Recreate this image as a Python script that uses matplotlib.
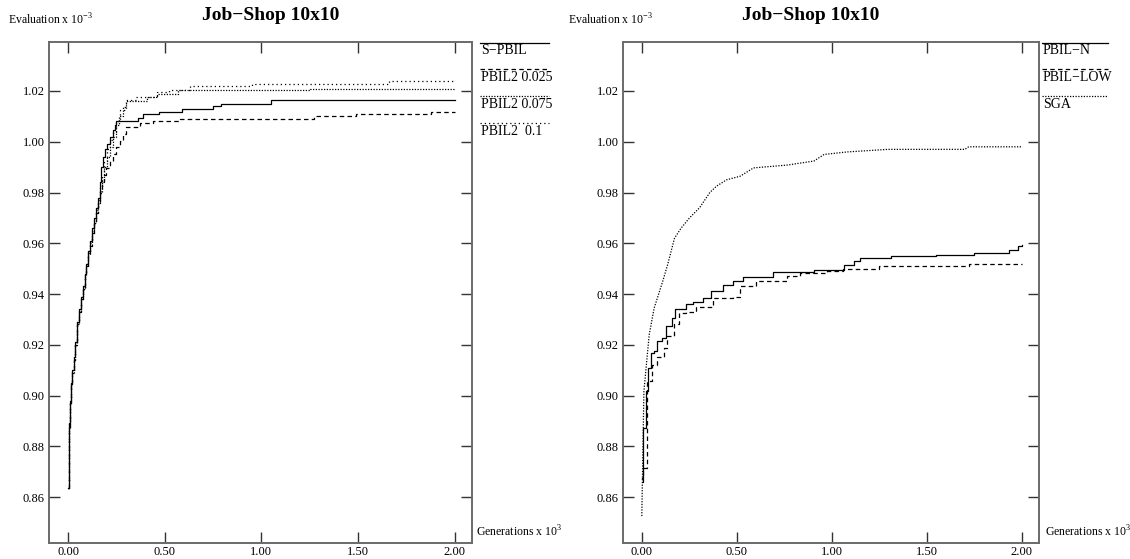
import matplotlib

matplotlib.use("Agg")
import matplotlib.pyplot as plt
from matplotlib.lines import Line2D

W, H = 1130, 559
SERIF = ["Liberation Serif", "DejaVu Serif"]
FRAME = "#6a6a6a"

plt.rcParams["font.family"] = SERIF
plt.rcParams["mathtext.fontset"] = "custom"
plt.rcParams["mathtext.rm"] = "Liberation Serif"

# generations (x 10^3) / best evaluation (x 10^-3), left panel
spbil_x = [0.0, 0.003, 0.006, 0.010, 0.015, 0.022, 0.030, 0.038, 0.047, 0.056, 0.065, 0.075,
           0.085, 0.095, 0.105, 0.115, 0.125, 0.135, 0.145, 0.155, 0.165, 0.172, 0.181, 0.190,
           0.200, 0.215, 0.233, 0.243, 0.250, 0.36, 0.39, 0.47, 0.59, 0.75, 0.79, 1.05, 2.0]
spbil_y = [0.8635, 0.875, 0.889, 0.898, 0.905, 0.910, 0.915, 0.921, 0.929, 0.934, 0.939, 0.943,
           0.948, 0.952, 0.957, 0.961, 0.966, 0.970, 0.974, 0.978, 0.984, 0.990, 0.994, 0.997,
           0.999, 1.002, 1.0045, 1.0065, 1.0083, 1.0094, 1.011, 1.0119, 1.013, 1.0139, 1.015,
           1.0163, 1.0163]

p025_x = [0.0, 0.003, 0.006, 0.010, 0.015, 0.022, 0.030, 0.038, 0.047, 0.056, 0.065, 0.075,
          0.085, 0.095, 0.105, 0.115, 0.125, 0.135, 0.145, 0.155, 0.164, 0.175, 0.186, 0.198,
          0.215, 0.233, 0.250, 0.267, 0.285, 0.302, 0.37, 0.44, 0.578, 1.27, 1.49, 1.88, 2.0]
p025_y = [0.8635, 0.874, 0.887, 0.897, 0.904, 0.909, 0.914, 0.920, 0.928, 0.933, 0.938, 0.942,
          0.947, 0.951, 0.955, 0.959, 0.964, 0.968, 0.972, 0.976, 0.9805, 0.984, 0.987, 0.9897,
          0.9925, 0.9953, 0.998, 1.0003, 1.003, 1.006, 1.0073, 1.008, 1.009, 1.010, 1.011,
          1.0117, 1.0117]

p075_x = [0.0, 0.003, 0.006, 0.010, 0.015, 0.022, 0.030, 0.038, 0.047, 0.056, 0.065, 0.075,
          0.085, 0.095, 0.105, 0.115, 0.125, 0.135, 0.145, 0.155, 0.165, 0.175, 0.186, 0.200,
          0.216, 0.233, 0.250, 0.265, 0.285, 0.30, 0.41, 0.46, 0.57, 1.25, 2.0]
p075_y = [0.8635, 0.875, 0.888, 0.897, 0.904, 0.909, 0.914, 0.920, 0.928, 0.933, 0.938, 0.942,
          0.947, 0.951, 0.956, 0.960, 0.964, 0.968, 0.972, 0.976, 0.980, 0.985, 0.990, 0.994,
          0.998, 1.002, 1.0066, 1.010, 1.0135, 1.016, 1.0176, 1.019, 1.0203, 1.0209, 1.0209]

p01_x = [0.0, 0.003, 0.006, 0.010, 0.015, 0.022, 0.030, 0.038, 0.047, 0.056, 0.065, 0.075,
         0.085, 0.095, 0.105, 0.115, 0.125, 0.135, 0.145, 0.155, 0.165, 0.175, 0.186, 0.200,
         0.216, 0.233, 0.250, 0.27, 0.30, 0.35, 0.46, 0.52, 0.63, 0.95, 1.66, 2.0]
p01_y = [0.8635, 0.875, 0.889, 0.898, 0.905, 0.910, 0.915, 0.921, 0.929, 0.934, 0.939, 0.943,
         0.948, 0.952, 0.957, 0.961, 0.965, 0.969, 0.973, 0.977, 0.982, 0.987, 0.9925, 0.997,
         1.0005, 1.004, 1.008, 1.0125, 1.0163, 1.0176, 1.0196, 1.0205, 1.0219, 1.0229, 1.0238,
         1.0238]

# right panel
pbiln_x = [0.0, 0.004, 0.02, 0.034, 0.046, 0.064, 0.082, 0.108, 0.126, 0.161, 0.175, 0.232,
           0.267, 0.32, 0.365, 0.427, 0.48, 0.533, 0.692, 0.905, 1.064, 1.117, 1.15, 1.31,
           1.55, 1.75, 1.93, 1.98, 2.0]
pbiln_y = [0.8676, 0.8872, 0.9017, 0.911, 0.9168, 0.9175, 0.9214, 0.9227, 0.9273, 0.9306, 0.934,
           0.9359, 0.937, 0.9385, 0.941, 0.9437, 0.945, 0.9466, 0.9487, 0.9496, 0.9516, 0.953,
           0.9542, 0.9549, 0.9555, 0.956, 0.9575, 0.959, 0.9595]

plow_x = [0.0, 0.004, 0.028, 0.055, 0.082, 0.117, 0.135, 0.17, 0.196, 0.23, 0.284, 0.372,
          0.48, 0.515, 0.6, 0.763, 0.833, 0.975, 1.06, 1.25, 1.72, 2.0]
plow_y = [0.866, 0.8715, 0.9056, 0.9122, 0.915, 0.9188, 0.9234, 0.928, 0.9325, 0.933, 0.935,
          0.9385, 0.939, 0.943, 0.945, 0.947, 0.9483, 0.949, 0.950, 0.951, 0.952, 0.952]

sga_x = [0.0, 0.005, 0.011, 0.039, 0.065, 0.11, 0.136, 0.172, 0.207, 0.251, 0.304, 0.358,
         0.393, 0.446, 0.517, 0.588, 0.765, 0.906, 0.959, 1.083, 1.296, 1.70, 1.72, 2.0]
sga_y = [0.8525, 0.875, 0.9017, 0.924, 0.9345, 0.945, 0.9516, 0.962, 0.966, 0.970, 0.974, 0.980,
         0.9825, 0.985, 0.9864, 0.9897, 0.9908, 0.9924, 0.995, 0.996, 0.997, 0.997, 0.998, 0.998]

x_ticks = [0.0, 0.5, 1.0, 1.5, 2.0]
y_ticks = [0.86, 0.88, 0.90, 0.92, 0.94, 0.96, 0.98, 1.00, 1.02]

SOLID = "-"
DASHED = (0, (3.6, 2.6))
DENSE_DOT = (0, (1.0, 1.2))
SPARSE_DOT = (0, (1.0, 2.4))


def fx(px):
    return px / W


def fy(py):
    return 1 - py / H


def make_axes(fig, left, right, top, bottom):
    ax = fig.add_axes([fx(left), fy(bottom), fx(right) - fx(left), fy(top) - fy(bottom)])
    ax.set_xlim(-0.099, 2.09)
    ax.set_ylim(0.8419, 1.0393)
    ax.set_xticks(x_ticks)
    ax.set_yticks(y_ticks)
    ax.set_xticklabels([f"{v:.2f}" for v in x_ticks])
    ax.set_yticklabels([f"{v:.2f}" for v in y_ticks])
    ax.tick_params(direction="in", length=8, width=1.0, color="#333333",
                   top=True, right=True, labelsize=9, pad=3)
    ax.tick_params(axis="x", pad=2)
    for sp in ax.spines.values():
        sp.set_color(FRAME)
        sp.set_linewidth(1.4)
    return ax


def side_legend(fig, x0, x1, entries):
    for i, (label, ls) in enumerate(entries):
        ly = 42.5 + i * 26.7
        fig.add_artist(Line2D([fx(x0), fx(x1)], [fy(ly), fy(ly)], transform=fig.transFigure,
                              color="black", lw=0.9, linestyle=ls))
        fig.text(fx(x0 + 1), fy(ly + 8.5), label, fontsize=10, va="center", ha="left")


fig = plt.figure(figsize=(W / 100, H / 100), dpi=100)

ax1 = make_axes(fig, 49, 472, 42, 543)
ax1.plot(spbil_x, spbil_y, color="black", lw=0.9, ls=SOLID, drawstyle="steps-post")
ax1.plot(p025_x, p025_y, color="black", lw=0.9, ls=DASHED, drawstyle="steps-post")
ax1.plot(p075_x, p075_y, color="black", lw=0.9, ls=DENSE_DOT, drawstyle="steps-post")
ax1.plot(p01_x, p01_y, color="black", lw=0.9, ls=SPARSE_DOT, drawstyle="steps-post")

ax2 = make_axes(fig, 623, 1039, 42, 543)
ax2.plot(pbiln_x, pbiln_y, color="black", lw=0.9, ls=SOLID, drawstyle="steps-post")
ax2.plot(plow_x, plow_y, color="black", lw=0.9, ls=DASHED, drawstyle="steps-post")
ax2.plot(sga_x, sga_y, color="black", lw=0.9, ls=DENSE_DOT)

for cx, ex, gx in [(271, 8, 476), (811, 568, 1045)]:
    fig.text(fx(cx), fy(15), "Job\u2212Shop 10x10", fontsize=14, fontweight="bold",
             ha="center", va="center")
    fig.text(fx(ex), fy(20), "Evaluation x 10$^{-3}$", fontsize=8.5, ha="left", va="center")
    fig.text(fx(gx), fy(532), "Generations x 10$^{3}$", fontsize=8.5, ha="left", va="center")

side_legend(fig, 480, 549, [("S\u2212PBIL", SOLID), ("PBIL2 0.025", DASHED),
                            ("PBIL2 0.075", DENSE_DOT), ("PBIL2  0.1", SPARSE_DOT)])
side_legend(fig, 1042, 1108, [("PBIL\u2212N", SOLID), ("PBIL\u2212LOW", DASHED),
                              ("SGA", DENSE_DOT)])

fig.savefig("out.png", dpi=100)
plt.close(fig)
